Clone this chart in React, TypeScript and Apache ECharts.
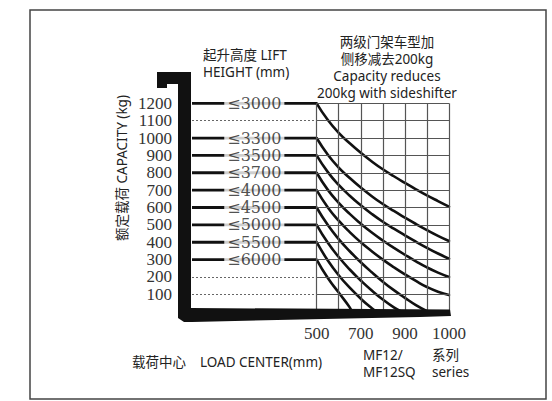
import React, { useEffect, useRef } from "react";
import * as echarts from "echarts";

// Rated capacity (kg) for each lift height, flat part of each curve
const capacities = [1200, 1000, 900, 800, 700, 600, 500, 400, 300];
const liftHeights = ["≤3000", "≤3300", "≤3500", "≤3700", "≤4000", "≤4500", "≤5000", "≤5500", "≤6000"];

// Load-centre grid columns (0 = 500 mm … 6 = 1000 mm) and their labels
const gridCols = [0, 1, 2, 3, 4, 5, 6];
const xTickCols = [0, 2, 4, 6];
const xTickLabels = ["500", "700", "900", "1000"];
const yGridLevels = [100, 200, 300, 400, 500, 600, 700, 800, 900, 1000, 1100, 1200];
const dottedLevels = [1100, 200, 100];

// Capacity curves: [grid column, kg]
const curve1200 = [[0, 1200], [0.5, 1105], [1, 1030], [1.5, 970], [2, 915], [2.5, 865], [3, 820], [3.5, 780], [4, 742], [4.5, 705], [5, 670], [5.5, 637], [6, 605]];
const curve1000 = [[0, 1000], [0.5, 905], [1, 830], [1.5, 770], [2, 715], [2.5, 665], [3, 620], [3.5, 580], [4, 542], [4.5, 505], [5, 470], [5.5, 437], [6, 407]];
const curve900 = [[0, 900], [0.5, 805], [1, 730], [1.5, 668], [2, 613], [2.5, 563], [3, 518], [3.5, 478], [4, 440], [4.5, 403], [5, 368], [5.5, 335], [6, 305]];
const curve800 = [[0, 800], [0.5, 703], [1, 627], [1.5, 563], [2, 507], [2.5, 456], [3, 410], [3.5, 368], [4, 328], [4.5, 290], [5, 255], [5.5, 225], [6, 200]];
const curve700 = [[0, 700], [0.5, 602], [1, 524], [1.5, 458], [2, 400], [2.5, 348], [3, 300], [3.5, 256], [4, 215], [4.5, 177], [5, 142], [5.5, 115], [6, 96]];
const curve600 = [[0, 600], [0.5, 500], [1, 418], [1.5, 348], [2, 285], [2.5, 227], [3, 173], [3.5, 124], [4, 80], [4.5, 38], [5.05, 0]];
const curve500 = [[0, 500], [0.5, 398], [1, 315], [1.5, 243], [2, 180], [2.5, 122], [3, 70], [3.5, 25], [3.85, 0]];
const curve400 = [[0, 400], [0.5, 296], [1, 210], [1.5, 138], [2, 75], [2.5, 20], [2.72, 0]];
const curve300 = [[0, 300], [0.5, 195], [1, 110], [1.5, 25], [1.59, 0]];
const curves = [curve1200, curve1000, curve900, curve800, curve700, curve600, curve500, curve400, curve300];

const X_MIN = -5.65;
const X_MAX = 6;
const SANS = '"Noto Sans", "Noto Sans CJK SC", sans-serif';
const SERIF = '"Liberation Serif", serif';

export default function App() {
  const ref = useRef<HTMLDivElement>(null);

  useEffect(() => {
    if (!ref.current) return;
    const chart = echarts.init(ref.current, null, { renderer: "svg" });

    const gridSeries: any = {
      type: "line",
      data: [],
      silent: true,
      z: 1,
      markLine: {
        silent: true,
        symbol: "none",
        label: { show: false },
        animation: false,
        data: [
          ...gridCols.map((c) => ({ xAxis: c, lineStyle: { color: "#555", width: 1.2, type: "solid" } })),
          ...yGridLevels.map((y) => [
            { coord: [0, y], lineStyle: { color: "#555", width: 1.2, type: "solid" } },
            { coord: [X_MAX, y] },
          ]),
          ...dottedLevels.map((y) => [
            { coord: [X_MIN, y], lineStyle: { color: "#666", width: 1.2, type: [2, 2] } },
            { coord: [0, y] },
          ]),
        ],
      },
    };

    const flatSeries = capacities.map((c) => ({
      type: "line",
      data: [[X_MIN, c], [0, c]],
      symbol: "none",
      silent: true,
      z: 3,
      lineStyle: { color: "#111", width: 2.8 },
    }));

    const curveSeries = curves.map((d) => ({
      type: "line",
      data: d,
      symbol: "none",
      smooth: 0.5,
      silent: true,
      z: 3,
      lineStyle: { color: "#111", width: 2.6, join: "round", cap: "round" },
    }));

    const labelX = X_MIN / 2;
    const labelSeries = {
      type: "scatter",
      z: 5,
      silent: true,
      symbolSize: 1,
      itemStyle: { color: "rgba(0,0,0,0)" },
      data: capacities.map((c, i) => [labelX, c, liftHeights[i]]),
      label: {
        show: true,
        position: "inside",
        formatter: (p: any) => p.data[2],
        backgroundColor: "#fff",
        padding: [0, 3, 0, 3],
        fontFamily: '"DejaVu Serif", serif',
        fontSize: 16,
        lineHeight: 15,
        color: "#222",
      },
    };

    const text = (t: string, x: number, y: number, align: string) => ({
      type: "text",
      x,
      y,
      z: 20,
      style: {
        text: t,
        fontFamily: SANS,
        fontSize: 13.5,
        lineHeight: 17,
        fill: "#222",
        align,
        verticalAlign: "top",
      },
    });

    chart.setOption({
      animation: false,
      backgroundColor: "#fff",
      grid: { left: 192, top: 103.3, right: 103, bottom: 89.3, containLabel: false },
      xAxis: {
        type: "value",
        min: X_MIN,
        max: X_MAX,
        axisLine: { show: false },
        axisTick: { show: false },
        splitLine: { show: false },
        axisLabel: {
          customValues: xTickCols,
          formatter: (v: number) => xTickLabels[xTickCols.indexOf(Math.round(v))] ?? "",
          margin: 13,
          fontFamily: SERIF,
          fontSize: 17,
          color: "#333",
        },
      },
      yAxis: {
        type: "value",
        min: 0,
        max: 1200,
        interval: 100,
        axisLine: { show: false },
        axisTick: { show: false },
        splitLine: { show: false },
        axisLabel: {
          showMinLabel: false,
          formatter: (v: number) => String(v),
          margin: 20,
          fontFamily: SERIF,
          fontSize: 17,
          lineHeight: 16,
          color: "#333",
        },
      },
      graphic: [
        {
          type: "rect",
          z: 0,
          shape: { x: 30, y: 10, width: 516, height: 389 },
          style: { fill: "none", stroke: "#444", lineWidth: 1.5 },
        },
        {
          type: "polygon",
          z: 10,
          shape: {
            points: [
              [157, 72], [191, 72], [191, 308], [450, 309.5], [451, 316], [420, 317],
              [300, 319.5], [192, 322], [184, 322], [178, 318], [178, 84], [167, 84],
              [167, 88], [157, 88],
            ],
          },
          style: { fill: "#111" },
        },
        text("起升高度 LIFT\nHEIGHT (mm)", 203, 46, "left"),
        text("两级门架车型加\n侧移减去200kg\nCapacity reduces\n200kg with sideshifter", 387, 33, "center"),
        text("载荷中心", 132, 353, "left"),
        text("LOAD CENTER(mm)", 200, 353, "left"),
        text("MF12/\nMF12SQ", 363, 346, "left"),
        text("系列\nseries", 432, 346, "left"),
        {
          type: "text",
          x: 122,
          y: 168,
          rotation: Math.PI / 2,
          z: 20,
          style: {
            text: "额定载荷 CAPACITY (kg)",
            fontFamily: SANS,
            fontSize: 13.5,
            fill: "#222",
            align: "center",
            verticalAlign: "middle",
          },
        },
      ],
      series: [gridSeries, ...flatSeries, ...curveSeries, labelSeries],
    });

    return () => chart.dispose();
  }, []);

  return (
    <div
      ref={ref}
      style={{ position: "fixed", left: 0, top: 0, width: 552, height: 401, background: "#fff" }}
    />
  );
}
